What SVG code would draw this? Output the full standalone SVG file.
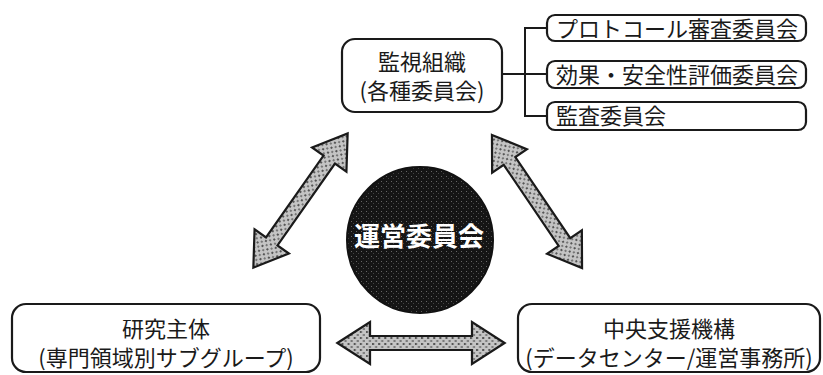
<svg xmlns="http://www.w3.org/2000/svg" width="823" height="375" viewBox="0 0 823 375">
<defs>
<style>
.box{fill:#fff;stroke:#1a1a1a;stroke-width:2.2}
.t{font-family:"Noto Sans CJK JP","Noto Sans",sans-serif;font-size:22px;fill:#1a1a1a}
.c{text-anchor:middle}
.arr{fill:url(#stip);stroke:#1a1a1a;stroke-width:2.2;stroke-linejoin:miter}
.ln{fill:none;stroke:#1a1a1a;stroke-width:2}
</style>
<pattern id="stip" width="6" height="6" patternUnits="userSpaceOnUse">
<rect width="6" height="6" fill="#c4c4c4"/>
<rect x="0" y="0" width="2" height="2" fill="#555"/>
<rect x="3" y="3" width="2" height="2" fill="#777"/>
</pattern>
<pattern id="dark" width="5" height="5" patternUnits="userSpaceOnUse">
<rect width="5" height="5" fill="#151515"/>
<rect x="1" y="1" width="1" height="1" fill="#666"/>
<rect x="3" y="3" width="1" height="1" fill="#444"/>
</pattern>
<path id="a" d="M-82,0 L-50,-21 L-50,-7 L50,-7 L50,-21 L82,0 L50,21 L50,7 L-50,7 L-50,21 Z"/>
</defs>

<g id="connectors">
<path class="ln" d="M502,74 H547 M547,28 H525 V116 H547"/>
<use href="#a" class="arr" transform="translate(300.5,200.5) rotate(-54.9)"/>
<use href="#a" class="arr" transform="translate(537,201.5) rotate(55.9) scale(0.98,1)"/>
<use href="#a" class="arr" transform="translate(421,343) scale(1.02,1)"/>
</g>

<g id="kanshi">
<rect class="box" x="342" y="39" width="160" height="73" rx="13"/>
<text class="t c" x="422" y="70">監視組織</text>
<text class="t c" x="422" y="99">(各種委員会)</text>
</g>

<g id="protocol">
<rect class="box" x="547" y="15" width="259" height="26" rx="8"/>
<text class="t" x="556" y="37">プロトコール審査委員会</text>
</g>
<g id="kouka">
<rect class="box" x="547" y="61" width="259" height="27" rx="8"/>
<text class="t" x="556" y="83">効果・安全性評価委員会</text>
</g>
<g id="kansa">
<rect class="box" x="547" y="102" width="259" height="28" rx="8"/>
<text class="t" x="556" y="124">監査委員会</text>
</g>

<g id="unei">
<circle cx="420" cy="240" r="73" fill="url(#dark)" stroke="#111" stroke-width="2"/>
<text class="c" x="419" y="246" font-family="Noto Sans CJK JP,sans-serif" font-size="26" font-weight="bold" fill="#fff">運営委員会</text>
</g>

<g id="kenkyu">
<rect class="box" x="12" y="304" width="308" height="68" rx="14"/>
<text class="t c" x="166" y="337">研究主体</text>
<text class="t c" x="166" y="366">(専門領域別サブグループ)</text>
</g>

<g id="chuo">
<rect class="box" x="518" y="304" width="302" height="68" rx="14"/>
<text class="t c" x="669" y="337">中央支援機構</text>
<text class="t c" x="669" y="366">(データセンター/運営事務所)</text>
</g>
</svg>
